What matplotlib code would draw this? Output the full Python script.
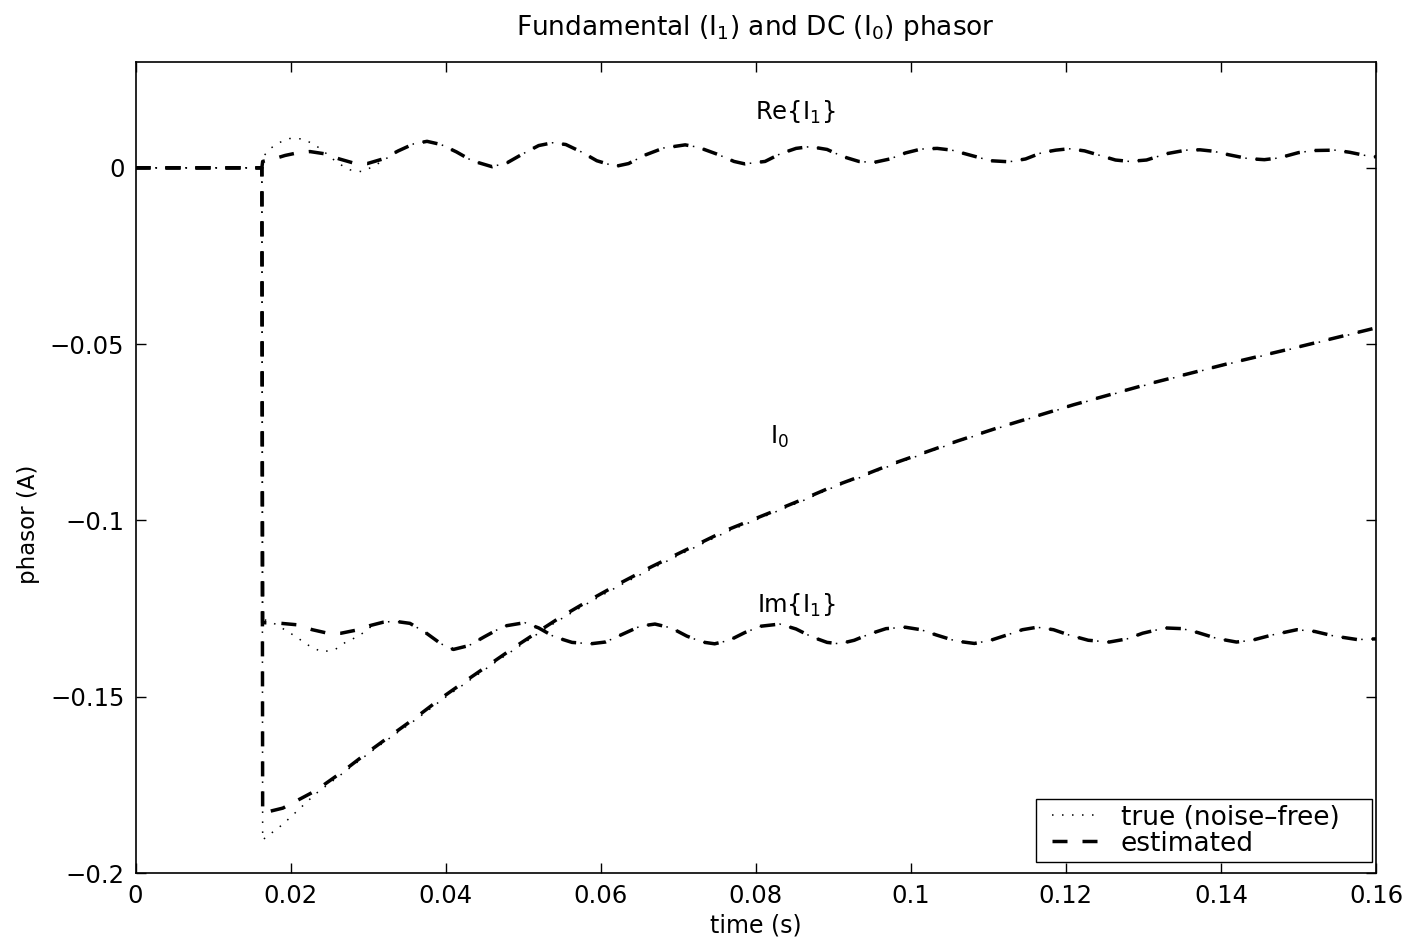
import matplotlib
matplotlib.use("Agg")
import matplotlib.pyplot as plt
from matplotlib.patches import Rectangle

plt.rcParams['font.family'] = ['DejaVu Sans']
plt.rcParams['mathtext.fontset'] = 'dejavusans'
plt.rcParams['mathtext.default'] = 'regular'
plt.rcParams['lines.scale_dashes'] = False

# ---------------- data ----------------
# Re{I1} estimated
t_re_est = [0.0, 0.0163, 0.0164, 0.0178, 0.0193, 0.0208, 0.0225, 0.0243, 0.0263, 0.0282,
            0.0299, 0.0319, 0.0339, 0.0359, 0.0376, 0.0394, 0.0414, 0.0434, 0.0460, 0.0480,
            0.0500, 0.0520, 0.0538, 0.0555, 0.0575, 0.0595, 0.0619, 0.0636, 0.0656, 0.0681,
            0.0709, 0.0726, 0.0751, 0.0772, 0.0786, 0.0812, 0.0832, 0.0852, 0.0870, 0.0892,
            0.0912, 0.0933, 0.0952, 0.0973, 0.0993, 0.1013, 0.1034, 0.1053, 0.1078, 0.1103,
            0.1127, 0.1148, 0.1169, 0.1187, 0.1204, 0.1224, 0.1244, 0.1264, 0.1282, 0.1304,
            0.1330, 0.1355, 0.1373, 0.1390, 0.1410, 0.1435, 0.1456, 0.1475, 0.1500, 0.1520,
            0.1547, 0.1566, 0.1586, 0.1600]
re_est = [0.0, 0.0, 0.0018, 0.0025, 0.0035, 0.0042, 0.0046, 0.0040, 0.0025, 0.0013,
          0.0012, 0.0025, 0.0048, 0.0068, 0.0075, 0.0066, 0.0045, 0.0020, 0.0003, 0.0015,
          0.0040, 0.0063, 0.0071, 0.0066, 0.0045, 0.0020, 0.0004, 0.0012, 0.0035, 0.0056,
          0.0065, 0.0058, 0.0038, 0.0018, 0.0011, 0.0018, 0.0040, 0.0055, 0.0060, 0.0052,
          0.0032, 0.0018, 0.0015, 0.0025, 0.0042, 0.0053, 0.0055, 0.0050, 0.0035, 0.0020,
          0.0017, 0.0025, 0.0043, 0.0050, 0.0054, 0.0048, 0.0035, 0.0022, 0.0018, 0.0022,
          0.0040, 0.0050, 0.0051, 0.0047, 0.0037, 0.0026, 0.0023, 0.0028, 0.0043, 0.0049,
          0.0050, 0.0044, 0.0035, 0.0031]

# Re{I1} true (noise-free): start-up part, then identical to the estimate
t_re_true_start = [0.0, 0.0163, 0.0164, 0.0174, 0.0186, 0.0199, 0.0215, 0.0227, 0.0238,
                   0.0248, 0.0261, 0.0277, 0.0292, 0.0307, 0.0319]
re_true_start = [0.0, 0.0, 0.0030, 0.0055, 0.0072, 0.0083, 0.0082, 0.0070, 0.0055,
                 0.0037, 0.0013, -0.0006, -0.0011, 0.0004, 0.0020]

# Im{I1} estimated
t_im_est = [0.0, 0.0163, 0.0164, 0.0188, 0.0208, 0.0228, 0.0248, 0.0265, 0.0283, 0.0303,
            0.0319, 0.0334, 0.0354, 0.0374, 0.0394, 0.0410, 0.0430, 0.0450, 0.0475, 0.0502,
            0.0520, 0.0540, 0.0563, 0.0587, 0.0606, 0.0626, 0.0651, 0.0670, 0.0691, 0.0711,
            0.0731, 0.0747, 0.0766, 0.0786, 0.0807, 0.0831, 0.0852, 0.0872, 0.0892, 0.0908,
            0.0927, 0.0947, 0.0968, 0.0993, 0.1013, 0.1033, 0.1058, 0.1082, 0.1103, 0.1124,
            0.1144, 0.1163, 0.1184, 0.1204, 0.1229, 0.1256, 0.1279, 0.1299, 0.1328, 0.1350,
            0.1370, 0.1395, 0.1420, 0.1440, 0.1466, 0.1498, 0.1521, 0.1546, 0.1576, 0.1600]
im_est = [0.0, 0.0, -0.1290, -0.1292, -0.1296, -0.1310, -0.1320, -0.1320, -0.1312, -0.1298,
          -0.1289, -0.1286, -0.1292, -0.1318, -0.1350, -0.1366, -0.1355, -0.1330, -0.1300, -0.1290,
          -0.1305, -0.1330, -0.1346, -0.1350, -0.1345, -0.1325, -0.1300, -0.1294, -0.1305, -0.1328,
          -0.1345, -0.1350, -0.1340, -0.1318, -0.1300, -0.1294, -0.1308, -0.1330, -0.1346, -0.1350,
          -0.1340, -0.1322, -0.1307, -0.1303, -0.1310, -0.1325, -0.1342, -0.1349, -0.1340, -0.1325,
          -0.1310, -0.1303, -0.1310, -0.1325, -0.1340, -0.1345, -0.1336, -0.1320, -0.1305, -0.1307,
          -0.1318, -0.1335, -0.1345, -0.1340, -0.1325, -0.1310, -0.1315, -0.1328, -0.1338, -0.1336]

# Im{I1} true: start-up part, then identical to the estimate
t_im_true_start = [0.0, 0.0163, 0.0164, 0.0177, 0.0197, 0.0209, 0.0222, 0.0240, 0.0257,
                   0.0270, 0.0283, 0.0296, 0.0307, 0.0319]
im_true_start = [0.0, 0.0, -0.1280, -0.1290, -0.1316, -0.1333, -0.1353, -0.1373, -0.1367,
                 -0.1347, -0.1333, -0.1316, -0.1295, -0.1289]

# I0 (DC phasor)
t_i0 = [0.0, 0.0163, 0.0164, 0.0190, 0.0232, 0.0268, 0.0300, 0.0330, 0.0364, 0.0395,
        0.0426, 0.0459, 0.0492, 0.0526, 0.0547, 0.0585, 0.0625, 0.0665, 0.0706, 0.0762,
        0.0822, 0.0861, 0.0897, 0.0940, 0.0977, 0.1060, 0.1110, 0.1210, 0.1310, 0.1410,
        0.1500, 0.1600]
i0_est = [0.0, 0.0, -0.1830, -0.1816, -0.1767, -0.1711, -0.1657, -0.1609, -0.1555, -0.1503,
          -0.1455, -0.1405, -0.1355, -0.1306, -0.1276, -0.1227, -0.1178, -0.1132, -0.1088, -0.1028,
          -0.0975, -0.0940, -0.0906, -0.0871, -0.0839, -0.0775, -0.0739, -0.0672, -0.0611, -0.0555,
          -0.0508, -0.0454]
i0_true = [0.0, 0.0, -0.1906, -0.1862, -0.1776, -0.1716, -0.1662, -0.1614, -0.1561, -0.1509,
           -0.1461, -0.1410, -0.1361, -0.1311, -0.1282, -0.1233, -0.1184, -0.1138, -0.1093, -0.1033,
           -0.0979, -0.0944, -0.0909, -0.0874, -0.0842, -0.0777, -0.0740, -0.0673, -0.0612, -0.0556,
           -0.0509, -0.0455]

x_ticks = [0, 0.02, 0.04, 0.06, 0.08, 0.1, 0.12, 0.14, 0.16]
x_ticklabels = ['0', '0.02', '0.04', '0.06', '0.08', '0.1', '0.12', '0.14', '0.16']
y_ticks = [-0.2, -0.15, -0.1, -0.05, 0]
y_ticklabels = ['\u22120.2', '\u22120.15', '\u22120.1', '\u22120.05', '0']

# ---------------- build full true series ----------------
def merge(t_start, v_start, t_full, v_full):
    t_out = list(t_start)
    v_out = list(v_start)
    for t, v in zip(t_full, v_full):
        if t > t_start[-1] + 1e-9:
            t_out.append(t)
            v_out.append(v)
    return t_out, v_out

t_re_true, re_true = merge(t_re_true_start, re_true_start, t_re_est, re_est)
t_im_true, im_true = merge(t_im_true_start, im_true_start, t_im_est, im_est)

# ---------------- figure ----------------
W, H = 1413, 938
fig = plt.figure(figsize=(W / 100, H / 100), dpi=100)
ax = fig.add_axes([135.5 / W, 1 - 873 / H, (1376 - 135.5) / W, (873 - 62) / H])

dot_style = (0, (1.1, 6.1))
dash_style = (0, (10.8, 10.8))
lw_dot = 1.1
lw_dash = 2.5

l_true, = ax.plot(t_re_true, re_true, color='black', lw=lw_dot, linestyle=dot_style,
                  label='true (noise\u2013free)')
ax.plot(t_im_true, im_true, color='black', lw=lw_dot, linestyle=dot_style)
ax.plot(t_i0, i0_true, color='black', lw=lw_dot, linestyle=dot_style)

l_est, = ax.plot(t_re_est, re_est, color='black', lw=lw_dash, linestyle=dash_style,
                 label='estimated')
ax.plot(t_im_est, im_est, color='black', lw=lw_dash, linestyle=dash_style)
ax.plot(t_i0, i0_est, color='black', lw=lw_dash, linestyle=dash_style)

ax.set_xlim(0, 0.16)
ax.set_ylim(-0.2, 0.03)
ax.set_xticks(x_ticks)
ax.set_xticklabels(x_ticklabels)
ax.set_yticks(y_ticks)
ax.set_yticklabels(y_ticklabels)
ax.tick_params(direction='in', length=7.5, width=1.0, top=True, right=True,
               labelsize=17.5, pad=8)
for s in ax.spines.values():
    s.set_linewidth(1.2)

ax.text(0.0799, 0.0158, 'Re{I$_1$}', fontsize=17.5, ha='left', va='center')
ax.text(0.0818, -0.0764, 'I$_0$', fontsize=17.5, ha='left', va='center')
ax.text(0.0801, -0.1240, 'Im{I$_1$}', fontsize=17.5, ha='left', va='center')

ax.set_xlabel('time (s)', fontsize=17)
ax.set_ylabel('phasor (A)', fontsize=16.5)
ax.xaxis.set_label_coords(0.5, -0.050)
ax.yaxis.set_label_coords(-0.077, 0.43)

fig.text(0.5348, 1 - 28 / H, 'Fundamental (I$_1$) and DC (I$_0$) phasor',
         fontsize=19, ha='center', va='center')

# legend frame (MATLAB-like box) and entries
ax.add_patch(Rectangle((0.726, 0.0136), 0.9968 - 0.726, 0.0912 - 0.0136,
                       transform=ax.transAxes, facecolor='white', edgecolor='black',
                       linewidth=1.0, zorder=4))
leg = ax.legend(handles=[l_true, l_est], loc='center left',
                bbox_to_anchor=(0.7388, 0.0524), borderaxespad=0,
                fontsize=19, frameon=False,
                handlelength=1.8, handletextpad=0.8, borderpad=0.0,
                labelspacing=0.0)
leg.set_zorder(5)

fig.savefig('out.png', dpi=100, facecolor='white')
